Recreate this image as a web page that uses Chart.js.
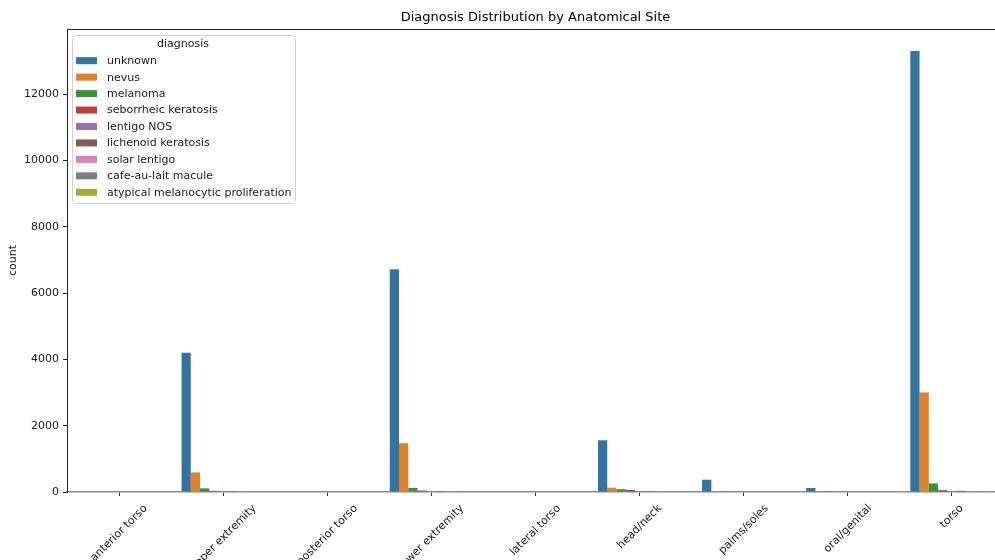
<!DOCTYPE html>
<html>
<head>
<meta charset="utf-8">
<script src="https://cdn.jsdelivr.net/npm/chart.js@4.4.1/dist/chart.umd.min.js"></script>
<style>
  html, body { margin: 0; padding: 0; background: #fff; overflow: hidden; }
  #wrap { width: 1012px; height: 560px; }
</style>
</head>
<body>
<div id="wrap"><canvas id="chart" width="1012" height="560"></canvas></div>
<script>
// Anatomical sites along the x axis
const sites = ['anterior torso', 'upper extremity', 'posterior torso', 'lower extremity',
  'lateral torso', 'head/neck', 'palms/soles', 'oral/genital', 'torso'];

// Diagnosis labels (hue levels)
const diagnoses = ['unknown', 'nevus', 'melanoma', 'seborrheic keratosis', 'lentigo NOS',
  'lichenoid keratosis', 'solar lentigo', 'cafe-au-lait macule', 'atypical melanocytic proliferation'];

// Counts per site for each diagnosis
const unknown            = [0, 4200, 0, 6720, 0, 1560, 370, 120, 13300];
const nevus              = [0,  590, 0, 1470, 0,  130,   4,   2,  3000];
const melanoma           = [0,  110, 0,  125, 0,   85,   5,   4,   260];
const seborrheicKerat    = [0,   35, 0,   45, 0,   65,   0,   0,    55];
const lentigoNOS         = [0,    6, 0,    8, 0,    8,   0,   0,     3];
const lichenoidKerat     = [0,    4, 0,    6, 0,    3,   0,   0,    35];
const solarLentigo       = [0,    1, 0,    2, 0,    2,   0,   0,     2];
const cafeAuLait         = [0,    0, 0,    1, 0,    0,   0,   0,     0];
const atypicalMelanocytic= [0,    0, 0,    0, 0,    0,   0,   0,     1];

const seriesValues = [unknown, nevus, melanoma, seborrheicKerat, lentigoNOS,
  lichenoidKerat, solarLentigo, cafeAuLait, atypicalMelanocytic];

// Muted tab10 palette
const palette = ['#3274a1', '#e1812c', '#3a923a', '#c03d3e', '#9372b2',
  '#845b53', '#d684bd', '#7f7f7f', '#a9aa35'];

// y-axis tick labels
const yTicks = [0, 2000, 4000, 6000, 8000, 10000, 12000];

const FONT = "'DejaVu Sans', sans-serif";
const yMax = Math.max(...unknown) * 1.05;

// Frame, rotated category labels and inset legend
const decorations = {
  id: 'decorations',
  afterDraw(chart) {
    const ctx = chart.ctx;
    const area = chart.chartArea;
    const xs = chart.scales.x;

    // top spine
    ctx.save();
    ctx.strokeStyle = '#222';
    ctx.lineWidth = 1;
    ctx.beginPath();
    ctx.moveTo(area.left, area.top + 0.5);
    ctx.lineTo(area.right, area.top + 0.5);
    ctx.stroke();
    ctx.restore();

    // rotated x labels, centred under each tick
    ctx.save();
    ctx.font = '11px ' + FONT;
    ctx.fillStyle = '#1a1a1a';
    ctx.textAlign = 'center';
    ctx.textBaseline = 'middle';
    const lineH = 13;
    sites.forEach((label, i) => {
      const x = xs.getPixelForTick(i);
      const w = ctx.measureText(label).width;
      const box = (w + lineH) * Math.SQRT1_2;
      const cy = area.bottom + 10 + box / 2;
      ctx.save();
      ctx.translate(x, cy);
      ctx.rotate(-Math.PI / 4);
      ctx.fillText(label, 0, 0);
      ctx.restore();
    });
    ctx.restore();

    // legend
    const lx = 72.5, ly = 35.5, lw = 223, lh = 168;
    ctx.save();
    ctx.fillStyle = 'rgba(255,255,255,0.8)';
    ctx.strokeStyle = '#d0d0d0';
    ctx.lineWidth = 1;
    ctx.beginPath();
    ctx.roundRect(lx, ly, lw, lh, 3);
    ctx.fill();
    ctx.stroke();
    ctx.font = '11px ' + FONT;
    ctx.fillStyle = '#1a1a1a';
    ctx.textBaseline = 'middle';
    ctx.textAlign = 'center';
    ctx.fillText('diagnosis', 183, 44);
    ctx.textAlign = 'left';
    chart.data.datasets.forEach((ds, i) => {
      const cy = 60.7 + i * 16.45;
      ctx.fillStyle = ds.backgroundColor;
      ctx.fillRect(76, cy - 3.5, 21, 7);
      ctx.fillStyle = '#1a1a1a';
      ctx.fillText(ds.label, 107, cy + 0.5);
    });
    ctx.restore();
  }
};

new Chart(document.getElementById('chart'), {
  type: 'bar',
  data: {
    labels: sites,
    datasets: diagnoses.map((name, i) => ({
      label: name,
      data: seriesValues[i],
      backgroundColor: palette[i],
      borderWidth: 0,
      categoryPercentage: 0.8,
      barPercentage: 1.0
    }))
  },
  options: {
    responsive: false,
    animation: false,
    layout: { padding: { left: 0, right: 8, top: 0, bottom: 0 } },
    plugins: {
      legend: { display: false },
      tooltip: { enabled: false },
      title: {
        display: true,
        fullSize: false,
        text: 'Diagnosis Distribution by Anatomical Site',
        color: '#000',
        font: { family: FONT, size: 13, weight: 'normal' },
        padding: { top: 9.5, bottom: 3.9 }
      }
    },
    scales: {
      x: {
        offset: true,
        grid: { display: true, drawOnChartArea: false, drawTicks: true, tickLength: 4, color: '#333', offset: false },
        border: { display: true, color: '#8a8a8a', width: 1.6 },
        ticks: { display: false },
        afterFit(s) { s.height = 68; }
      },
      y: {
        min: 0,
        max: yMax,
        grid: { display: true, drawOnChartArea: false, drawTicks: true, tickLength: 4, color: '#222' },
        border: { display: true, color: '#222', width: 1 },
        afterBuildTicks(s) { s.ticks = yTicks.map(v => ({ value: v })); },
        ticks: {
          color: '#1a1a1a',
          padding: 4,
          font: { family: FONT, size: 11 },
          callback: v => String(v)
        },
        title: {
          display: true,
          text: 'count',
          color: '#1a1a1a',
          font: { family: FONT, size: 11 },
          padding: { top: 7, bottom: 0 }
        },
        afterFit(s) { s.width = 67; }
      }
    }
  },
  plugins: [decorations]
});
</script>
</body>
</html>
